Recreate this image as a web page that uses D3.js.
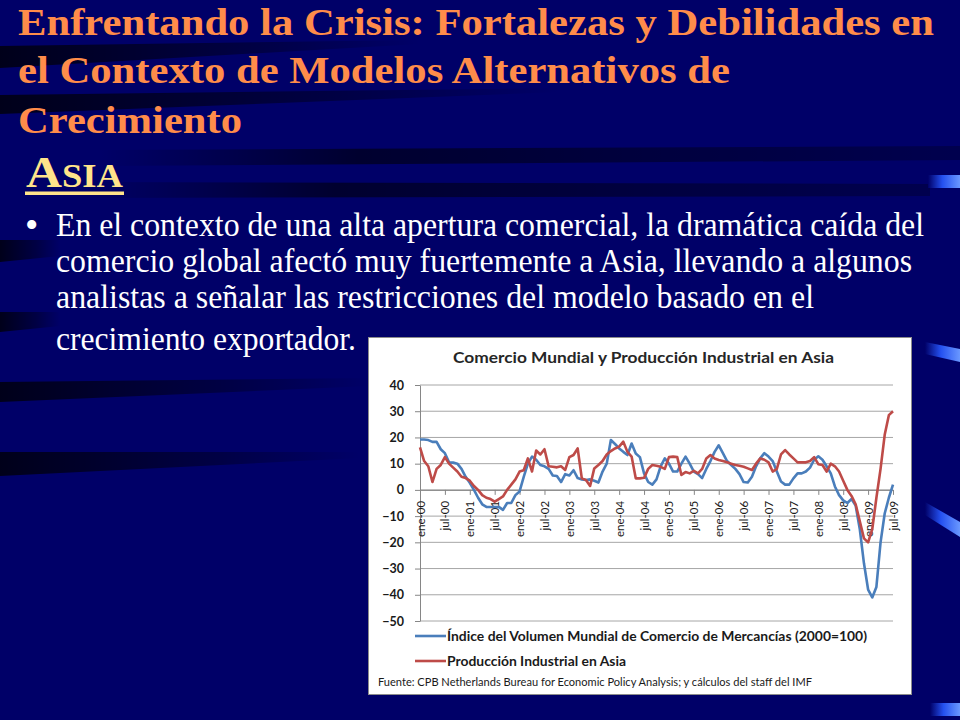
<!DOCTYPE html>
<html>
<head>
<meta charset="utf-8">
<script src="https://cdn.jsdelivr.net/npm/d3@7"></script>
<style>
  body { margin: 0; background: #000068; }
  svg { display: block; }
</style>
</head>
<body>
<svg width="960" height="720"></svg>
<script>
// month tick labels, one every 6 months (ene-00 ... jul-09)
const tickLabels = ["ene-00", "jul-00", "ene-01", "jul-01", "ene-02", "jul-02", "ene-03", "jul-03",
    "ene-04", "jul-04", "ene-05", "jul-05", "ene-06", "jul-06", "ene-07", "jul-07",
    "ene-08", "jul-08", "ene-09", "jul-09"];

const yTicks = [40, 30, 20, 10, 0, -10, -20, -30, -40, -50];

// Índice del Volumen Mundial de Comercio de Mercancías, monthly, ene-00 .. jul-09
const comercioMundial = [
    19.2, 19.2, 19, 18.3, 18.3, 15.5, 14, 10.5, 10.4, 10, 8, 5,
    2.7, 0, -3, -5.5, -6.5, -6.5, -6.5, -6.5, -7.6, -5, -5, -2,
    -0.6, 5, 10, 12.7, 11.5, 9.5, 9, 8, 5.5, 5.3, 3, 6,
    5.5, 7.5, 4.5, 4, 3.8, 4, 3.5, 2.8, 7, 10, 19, 17.5,
    15.8, 14.5, 13.3, 17.7, 13.9, 12.5, 6.3, 3, 2, 4, 9, 12,
    10, 7, 7, 10, 12.7, 10, 7, 6, 4.5, 8, 11, 14.5,
    17, 14, 11, 9.5, 8, 6, 3, 2.8, 5, 9, 12, 14,
    12.7, 11, 7, 3.2, 2, 2, 4.4, 6.3, 6.3, 7, 8.5, 11.5,
    12.8, 11.5, 9, 6.3, 1.3, -2, -4, -5, -3.5, -6, -15, -28,
    -38, -41, -37, -20, -9, -3, 2
];

// Producción Industrial en Asia, monthly, ene-00 .. jul-09
const produccionAsia = [
    16.2, 11, 9, 3, 8, 9.5, 12.5, 10, 8.5, 7, 5, 4.5,
    3.5, 1.5, 0, -2, -3, -3.5, -4.5, -3.5, -2.5, 0, 2, 4,
    7, 7.5, 12, 7, 15, 13.5, 15.5, 9, 8.8, 8.6, 9, 7.6,
    12.5, 13.3, 15.8, 4.4, 3.8, 1.5, 8.2, 9.5, 11, 13.5, 14.8, 15.8,
    16.5, 18.4, 14.5, 12.7, 4.4, 4.4, 4.6, 8, 9.5, 9.2, 8.8, 8,
    12.5, 12.7, 12.5, 5.7, 6.8, 6.3, 7.3, 6.3, 8, 12, 13.3, 12,
    11.4, 11, 10.5, 10, 9.5, 9.2, 8.8, 8.2, 7.6, 10, 12, 11.5,
    10.5, 7, 8, 13.5, 15.2, 13.5, 12, 10.5, 10.5, 10.5, 11, 12.5,
    9.8, 9.5, 7, 10, 9, 7, 3.5, 0, -2.3, -5.5, -12, -18.5,
    -20, -15, -3, 8, 21, 28.5, 30
];

const svg = d3.select("svg");
const defs = svg.append("defs");

// ---- slide background ----
svg.append("rect").attr("width", 960).attr("height", 720).attr("fill", "#000068");

const streakGrad = defs.append("linearGradient").attr("id", "streak")
    .attr("x1", "0%").attr("x2", "100%");
streakGrad.append("stop").attr("offset", "0%").attr("stop-color", "#000").attr("stop-opacity", 0.75);
streakGrad.append("stop").attr("offset", "60%").attr("stop-color", "#000").attr("stop-opacity", 0.35);
streakGrad.append("stop").attr("offset", "100%").attr("stop-color", "#000").attr("stop-opacity", 0);

const streakGrad2 = defs.append("linearGradient").attr("id", "streak2")
    .attr("x1", "0%").attr("x2", "100%");
streakGrad2.append("stop").attr("offset", "0%").attr("stop-color", "#000").attr("stop-opacity", 0);
streakGrad2.append("stop").attr("offset", "30%").attr("stop-color", "#000").attr("stop-opacity", 0.55);
streakGrad2.append("stop").attr("offset", "100%").attr("stop-color", "#000").attr("stop-opacity", 0.25);

const streaks = [
    {pts: [[0, 46], [420, 40], [420, 44], [0, 68]], fill: "url(#streak)"},
    {pts: [[0, 95], [560, 88], [560, 92], [0, 114]], fill: "url(#streak)"},
    {pts: [[100, 150], [960, 146], [960, 160], [100, 166]], fill: "url(#streak2)"},
    {pts: [[80, 182], [930, 184], [930, 196], [80, 198]], fill: "url(#streak2)"},
    {pts: [[0, 240], [60, 240], [60, 256], [0, 262]], fill: "url(#streak)"},
    {pts: [[0, 312], [60, 312], [60, 326], [0, 332]], fill: "url(#streak)"},
    {pts: [[0, 382], [370, 378], [370, 386], [0, 402]], fill: "url(#streak)"},
    {pts: [[0, 452], [360, 452], [360, 458], [0, 476]], fill: "url(#streak)"}
];
svg.append("g").selectAll("polygon")
    .data(streaks)
    .join("polygon")
    .attr("points", d => d.pts.map(p => p.join(",")).join(" "))
    .attr("fill", d => d.fill);

// blue bars on the right edge
const barGrad = defs.append("linearGradient").attr("id", "bar")
    .attr("x1", "0%").attr("x2", "100%");
barGrad.append("stop").attr("offset", "0%").attr("stop-color", "#000068");
barGrad.append("stop").attr("offset", "45%").attr("stop-color", "#2450f0");
barGrad.append("stop").attr("offset", "100%").attr("stop-color", "#6a98ff");

const bars = [
    [[928, 175], [960, 175], [960, 188], [928, 188]],
    [[925, 342], [960, 349], [960, 362], [925, 354]],
    [[925, 502], [960, 522], [960, 537], [925, 515]],
    [[930, 703], [960, 703], [960, 716], [930, 716]]
];
svg.append("g").selectAll("polygon")
    .data(bars)
    .join("polygon")
    .attr("points", d => d.map(p => p.join(",")).join(" "))
    .attr("fill", "url(#bar)");

// ---- slide text ----
const titleLines = [
    {text: "Enfrentando la Crisis: Fortalezas y Debilidades en", y: 35, w: 916},
    {text: "el Contexto de Modelos Alternativos de", y: 83, w: 712},
    {text: "Crecimiento", y: 133, w: 224}
];
svg.append("g").selectAll("text")
    .data(titleLines)
    .join("text")
    .attr("x", 18)
    .attr("y", d => d.y)
    .attr("textLength", d => d.w)
    .attr("lengthAdjust", "spacingAndGlyphs")
    .attr("font-family", "Liberation Serif, Times New Roman, serif")
    .attr("font-weight", "bold")
    .attr("font-size", 38)
    .attr("fill", "#ff8c4a")
    .text(d => d.text);

const asia = svg.append("text")
    .attr("x", 26)
    .attr("y", 187)
    .attr("textLength", 97)
    .attr("lengthAdjust", "spacingAndGlyphs")
    .attr("font-family", "Liberation Serif, Times New Roman, serif")
    .attr("font-weight", "bold")
    .attr("fill", "#ffe48a");
asia.append("tspan").attr("font-size", 45).text("A");
asia.append("tspan").attr("font-size", 33).text("SIA");
svg.append("rect")
    .attr("x", 25).attr("y", 191.5).attr("width", 99).attr("height", 3.5)
    .attr("fill", "#ffe48a");

const bulletLines = [
    {text: "En el contexto de una alta apertura comercial, la dramática caída del", y: 236, w: 868},
    {text: "comercio global afectó muy fuertemente a Asia, llevando a algunos", y: 272, w: 856},
    {text: "analistas a señalar las restricciones del modelo basado en el", y: 308, w: 758},
    {text: "crecimiento exportador.", y: 350, w: 300}
];
svg.append("text")
    .attr("x", 25)
    .attr("y", 238)
    .attr("font-family", "Liberation Serif, Times New Roman, serif")
    .attr("font-size", 38)
    .attr("fill", "#ffffff")
    .text("•");
svg.append("g").selectAll("text")
    .data(bulletLines)
    .join("text")
    .attr("x", 56)
    .attr("y", d => d.y)
    .attr("textLength", d => d.w)
    .attr("lengthAdjust", "spacingAndGlyphs")
    .attr("font-family", "Liberation Serif, Times New Roman, serif")
    .attr("font-size", 33)
    .attr("fill", "#ffffff")
    .text(d => d.text);

// ---- chart box ----
svg.append("rect")
    .attr("x", 368.5).attr("y", 337.5)
    .attr("width", 543).attr("height", 357)
    .attr("fill", "#ffffff")
    .attr("stroke", "#8c8c8c");

const chartFont = "Lato, Calibri, sans-serif";

svg.append("text")
    .attr("x", 643.5)
    .attr("y", 363)
    .attr("text-anchor", "middle")
    .attr("textLength", 381)
    .attr("lengthAdjust", "spacingAndGlyphs")
    .attr("font-family", chartFont)
    .attr("font-weight", "bold")
    .attr("font-size", 15)
    .attr("fill", "#262626")
    .text("Comercio Mundial y Producción Industrial en Asia");

const plot = {left: 420, right: 893, top: 385, bottom: 621};

const xScale = d3.scaleLinear()
    .domain([0, (tickLabels.length - 1) * 6])
    .range([plot.left, plot.right]);

const yScale = d3.scaleLinear()
    .domain([-50, 40])
    .range([plot.bottom, plot.top]);

// gridlines
svg.append("g")
    .selectAll("line")
    .data(yTicks)
    .join("line")
    .attr("x1", plot.left)
    .attr("x2", plot.right)
    .attr("y1", d => yScale(d))
    .attr("y2", d => yScale(d))
    .attr("stroke", "#a6a6a6")
    .attr("stroke-width", 1);

const yAxis = d3.axisLeft(yScale)
    .tickValues(yTicks)
    .tickSize(5)
    .tickSizeOuter(0)
    .tickPadding(11);

const gy = svg.append("g")
    .attr("transform", `translate(${plot.left}, 0)`)
    .call(yAxis);
gy.select(".domain").attr("stroke", "#868686");
gy.selectAll(".tick line").attr("stroke", "#868686");
gy.selectAll("text")
    .attr("font-family", chartFont)
    .attr("font-weight", "bold")
    .attr("font-size", 12.5)
    .attr("fill", "#1a1a1a");

const xAxis = d3.axisBottom(xScale)
    .tickValues(d3.range(0, tickLabels.length * 6, 6))
    .tickFormat((d, i) => tickLabels[i])
    .tickSize(5)
    .tickSizeOuter(0);

const gx = svg.append("g")
    .attr("transform", `translate(0, ${yScale(0)})`)
    .call(xAxis);
gx.select(".domain").attr("stroke", "#868686");
gx.selectAll(".tick line").attr("stroke", "#868686");
gx.selectAll("text")
    .attr("transform", "rotate(-90)")
    .attr("text-anchor", "end")
    .attr("x", -11)
    .attr("y", 0)
    .attr("dy", "0.35em")
    .attr("font-family", chartFont)
    .attr("font-size", 11.5)
    .attr("fill", "#1a1a1a");

// lines
const line = d3.line()
    .x((d, i) => xScale(i))
    .y(d => yScale(d));

svg.append("path")
    .datum(comercioMundial)
    .attr("fill", "none")
    .attr("stroke", "#4a7ebb")
    .attr("stroke-width", 2.6)
    .attr("stroke-linejoin", "round")
    .attr("d", line);

svg.append("path")
    .datum(produccionAsia)
    .attr("fill", "none")
    .attr("stroke", "#be4b48")
    .attr("stroke-width", 2.6)
    .attr("stroke-linejoin", "round")
    .attr("d", line);

// legend
const legendItems = [
    {label: "Índice del Volumen Mundial de Comercio de Mercancías (2000=100)", color: "#4a7ebb", y: 636, w: 420},
    {label: "Producción Industrial en Asia", color: "#be4b48", y: 661, w: 179}
];
const legend = svg.append("g");
legend.selectAll("line")
    .data(legendItems)
    .join("line")
    .attr("x1", 415).attr("x2", 446)
    .attr("y1", d => d.y).attr("y2", d => d.y)
    .attr("stroke", d => d.color)
    .attr("stroke-width", 2.6);
legend.selectAll("text")
    .data(legendItems)
    .join("text")
    .attr("x", 447)
    .attr("y", d => d.y + 5)
    .attr("textLength", d => d.w)
    .attr("lengthAdjust", "spacingAndGlyphs")
    .attr("font-family", chartFont)
    .attr("font-weight", "bold")
    .attr("font-size", 14)
    .attr("fill", "#1a1a1a")
    .text(d => d.label);

svg.append("text")
    .attr("x", 378)
    .attr("y", 686)
    .attr("textLength", 434)
    .attr("lengthAdjust", "spacingAndGlyphs")
    .attr("font-family", chartFont)
    .attr("font-size", 10.5)
    .attr("fill", "#1a1a1a")
    .text("Fuente: CPB Netherlands Bureau for Economic Policy Analysis; y cálculos del staff  del IMF");
</script>
</body>
</html>
